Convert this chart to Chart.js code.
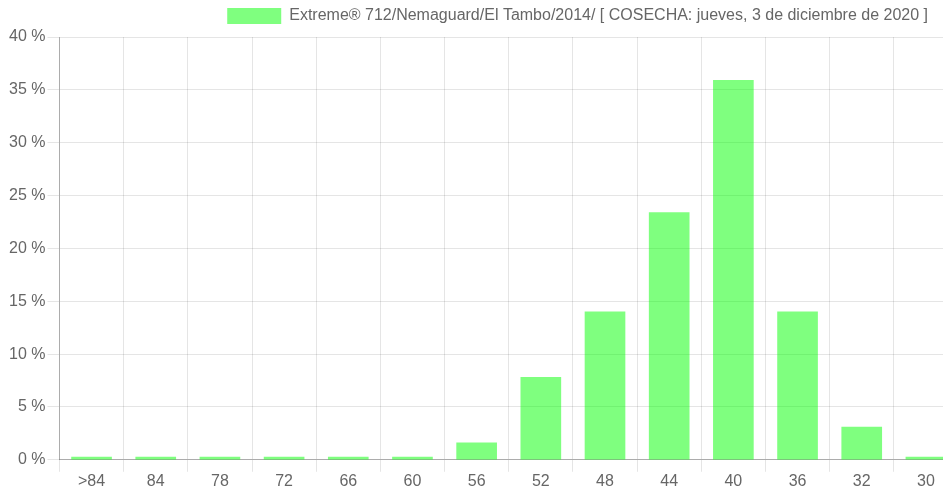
<!DOCTYPE html>
<html>
<head>
<meta charset="utf-8">
<script src="https://cdn.jsdelivr.net/npm/chart.js@4/dist/chart.umd.min.js"></script>
<style>
    html, body { margin: 0; padding: 0; overflow: hidden; background: #fff; }
    #wrap { width: 958px; height: 491px; }
</style>
</head>
<body>
<div id="wrap"><canvas id="calibreChart"></canvas></div>
<script>
// ===== DATOS =====
const calibres = ['>84', '84', '78', '72', '66', '60', '56', '52', '48', '44', '40', '36', '32', '30'];
const porcentajes = [0.25, 0.25, 0.25, 0.25, 0.25, 0.25, 1.6, 7.8, 14.0, 23.4, 35.9, 14.0, 3.1, 0.25];
const etiquetaSerie = 'Extreme® 712/Nemaguard/El Tambo/2014/ [ COSECHA: jueves, 3 de diciembre de 2020 ]';
const ticksY = [0, 5, 10, 15, 20, 25, 30, 35, 40];

Chart.defaults.font.family = '"Liberation Sans", Arial, sans-serif';
Chart.defaults.font.size = 16;
Chart.defaults.color = '#666';

// Margen extra bajo la leyenda y desplazamiento a la izquierda
const ajusteLeyenda = {
    id: 'ajusteLeyenda',
    beforeInit(chart) {
        const fit = chart.legend.fit;
        chart.legend.fit = function () {
            fit.bind(chart.legend)();
            this.height += 3;
        };
    },
    afterLayout(chart) {
        chart.legend.right -= 22;
    }
};

const ctx = document.getElementById('calibreChart').getContext('2d');
const chart = new Chart(ctx, {
    type: 'bar',
    data: {
        labels: calibres,
        datasets: [{
            label: etiquetaSerie,
            data: porcentajes,
            backgroundColor: 'rgba(0, 255, 0, 0.5)',
            borderWidth: 0,
            barThickness: 40
        }]
    },
    options: {
        responsive: true,
        maintainAspectRatio: false,
        animation: false,
        layout: { padding: { left: 7 } },
        scales: {
            x: {
                grid: { color: 'rgba(0,0,0,0.1)', tickLength: 12 },
                border: { color: 'rgba(0,0,0,0.25)' },
                ticks: { padding: 0 }
            },
            y: {
                min: ticksY[0],
                max: ticksY[ticksY.length - 1],
                grid: { color: 'rgba(0,0,0,0.1)', tickLength: 12 },
                border: { color: 'rgba(0,0,0,0.25)' },
                ticks: {
                    stepSize: ticksY[1] - ticksY[0],
                    padding: 2,
                    callback: v => v + ' %'
                }
            }
        },
        plugins: {
            legend: {
                position: 'top',
                align: 'end',
                labels: { boxWidth: 54, boxHeight: 16, padding: 8 }
            },
            tooltip: { enabled: false }
        }
    },
    plugins: [ajusteLeyenda]
});
</script>
</body>
</html>
